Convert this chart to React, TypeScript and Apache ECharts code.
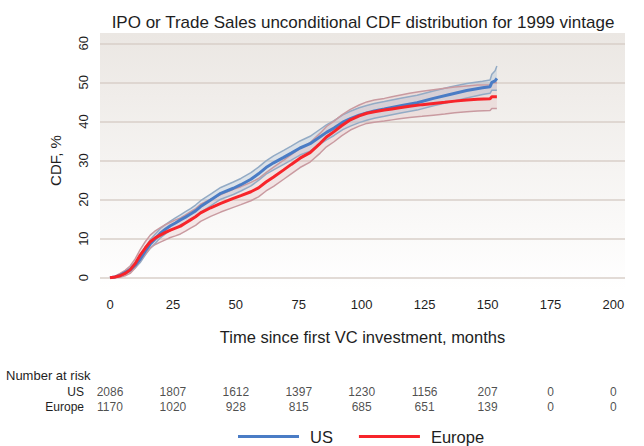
import React, { useEffect, useRef } from 'react';
import * as echarts from 'echarts';

// ---- data ----
const usMonths = [0, 2, 4, 6, 8, 10, 12, 14, 16, 18, 20, 22, 24, 26, 28, 30, 32, 34, 36, 40, 44, 49, 52, 56, 59, 62, 65, 69, 72, 75.5, 79.5, 83.5, 86, 89, 92.5, 95.5, 99, 102, 105, 109, 112, 116, 122, 128.5, 135, 141.7, 148, 151, 151.7, 153, 153.7];
const usCdf = [0, 0.2, 0.6, 1.3, 2.0, 3.2, 4.8, 6.8, 8.6, 10.0, 11.4, 12.4, 13.3, 14.0, 14.8, 15.5, 16.3, 17.1, 18.2, 19.9, 21.6, 22.9, 23.8, 25.2, 26.6, 28.2, 29.4, 30.8, 31.9, 33.2, 34.3, 36.1, 37.2, 38.3, 39.8, 40.7, 41.6, 42.2, 42.7, 43.2, 43.6, 44.1, 44.8, 45.9, 46.9, 47.9, 48.6, 48.9, 50.0, 50.4, 51.0];
const usUpper = [0, 0.3, 0.9, 1.7, 2.6, 3.9, 5.7, 7.8, 9.7, 11.2, 12.6, 13.6, 14.5, 15.3, 16.1, 16.9, 17.7, 18.6, 19.7, 21.4, 23.1, 24.5, 25.4, 26.9, 28.3, 29.9, 31.2, 32.6, 33.7, 35.0, 36.2, 38.0, 39.1, 40.2, 41.7, 42.6, 43.5, 44.1, 44.6, 45.1, 45.5, 46.0, 46.7, 47.8, 48.8, 49.7, 50.3, 50.6, 52.1, 53.0, 54.2];
const usLower = [0, 0.1, 0.4, 0.9, 1.5, 2.5, 3.9, 5.8, 7.5, 8.8, 10.2, 11.2, 12.1, 12.7, 13.5, 14.1, 14.9, 15.6, 16.7, 18.4, 20.1, 21.3, 22.2, 23.5, 24.9, 26.5, 27.6, 29.0, 30.1, 31.4, 32.4, 34.2, 35.3, 36.4, 37.9, 38.8, 39.7, 40.3, 40.8, 41.3, 41.7, 42.2, 42.9, 44.0, 45.0, 46.0, 46.9, 47.2, 48.0, 48.0, 48.0];

const euMonths = [0, 2, 4, 6, 8, 10, 12, 14, 16, 18, 20, 22, 24, 26, 28, 30, 32, 34, 36, 40, 44, 49, 52, 56, 59, 62, 65, 69, 72, 75.5, 79.5, 83.5, 86, 89, 92, 95.5, 99, 102, 105, 109, 112, 115, 119, 124, 128.5, 133, 137, 141.7, 146, 151, 151.7, 153.7];
const euCdf = [0, 0.2, 0.5, 1.1, 2.0, 3.6, 5.8, 7.6, 9.2, 10.2, 10.9, 11.6, 12.2, 12.7, 13.2, 14.0, 14.8, 15.6, 16.6, 17.9, 19.0, 20.3, 21.0, 22.0, 23.0, 24.5, 25.8, 27.6, 29.0, 30.6, 32.0, 34.4, 36.0, 37.4, 38.9, 40.4, 41.4, 42.1, 42.5, 42.9, 43.2, 43.5, 43.9, 44.3, 44.6, 44.9, 45.2, 45.5, 45.7, 45.8, 46.3, 46.3];
const euUpper = [0, 0.4, 1.1, 1.9, 3.0, 4.8, 7.2, 9.2, 10.9, 12.0, 12.8, 13.6, 14.2, 14.8, 15.3, 16.1, 16.9, 17.7, 18.8, 20.1, 21.3, 22.6, 23.3, 24.4, 25.4, 26.9, 28.3, 30.1, 31.5, 33.1, 34.6, 37.0, 38.7, 40.1, 41.6, 43.1, 44.2, 45.0, 45.5, 45.9, 46.3, 46.7, 47.2, 47.7, 48.1, 48.5, 48.8, 49.1, 49.3, 49.4, 49.9, 49.9];
const euLower = [0, 0.0, 0.1, 0.5, 1.1, 2.5, 4.4, 6.0, 7.6, 8.5, 9.1, 9.7, 10.3, 10.7, 11.2, 11.9, 12.7, 13.4, 14.4, 15.7, 16.8, 18.0, 18.7, 19.7, 20.7, 22.2, 23.4, 25.2, 26.6, 28.2, 29.6, 31.9, 33.5, 34.8, 36.3, 37.8, 38.8, 39.5, 39.8, 40.1, 40.4, 40.7, 41.0, 41.3, 41.6, 41.9, 42.2, 42.5, 42.7, 42.8, 43.3, 43.3];

const xTicks = [0, 25, 50, 75, 100, 125, 150, 175, 200];
const riskRows = ['US', 'Europe'];
const usAtRisk = [2086, 1807, 1612, 1397, 1230, 1156, 207, 0, 0];
const euAtRisk = [1170, 1020, 928, 815, 685, 651, 139, 0, 0];

const BLUE = '#4a7cc5';
const RED = '#f7242a';
const FONT = '"Liberation Sans", Arial, Helvetica, sans-serif';
const TXT = '#1e1e1e';

const pairs = (xs: number[], ys: number[]) => xs.map((x, i) => [x, ys[i]]);

const band = (name: string, xs: number[], up: number[], lo: number[], fill: string, z: number) => ({
  type: 'custom',
  name,
  xAxisIndex: 0,
  yAxisIndex: 0,
  silent: true,
  z,
  data: [[0, 0]],
  renderItem: (_p: any, api: any) => {
    const pts: number[][] = [];
    xs.forEach((x, i) => pts.push(api.coord([x, up[i]])));
    for (let i = xs.length - 1; i >= 0; i--) pts.push(api.coord([xs[i], lo[i]]));
    return { type: 'polygon', shape: { points: pts }, style: { fill } };
  },
});

const ciLine = (name: string, xs: number[], ys: number[], color: string, z: number) => ({
  type: 'line',
  name,
  data: pairs(xs, ys),
  symbol: 'none',
  silent: true,
  z,
  lineStyle: { color, width: 1.5 },
  itemStyle: { color },
});

const riskSeries = (name: string, row: string, counts: number[]) => ({
  type: 'scatter',
  name,
  xAxisIndex: 1,
  yAxisIndex: 1,
  symbolSize: 1,
  silent: true,
  itemStyle: { color: 'rgba(0,0,0,0)' },
  data: xTicks.map((t, i) => [t, row, counts[i]]),
  label: {
    show: true,
    position: 'inside',
    formatter: (p: any) => String(p.value[2]),
    fontSize: 12,
    color: TXT,
    fontFamily: FONT,
  },
});

export default function App() {
  const ref = useRef<HTMLDivElement>(null);
  useEffect(() => {
    if (!ref.current) return;
    const chart = echarts.init(ref.current, undefined, { renderer: 'svg' });
    const xMin = -3.97;
    const xMax = 204.6;
    chart.setOption({
      animation: false,
      textStyle: { fontFamily: FONT, color: TXT },
      title: [
        {
          text: 'IPO or Trade Sales unconditional CDF distribution for 1999 vintage',
          left: 358,
          top: 9,
          textAlign: 'center',
          textStyle: { fontSize: 17, fontWeight: 'normal', color: TXT, fontFamily: FONT },
        },
        {
          text: 'Number at risk',
          left: 1,
          top: 364,
          textStyle: { fontSize: 13, fontWeight: 'normal', color: TXT, fontFamily: FONT },
        },
      ],
      graphic: [
        {
          type: 'rect',
          z: -10,
          silent: true,
          shape: { x: 100, y: 33, width: 525, height: 257 },
          style: {
            fill: new echarts.graphic.LinearGradient(0, 0, 0, 1, [
              { offset: 0, color: '#ebe7e3' },
              { offset: 1, color: '#ffffff' },
            ]),
          },
        },
      ],
      legend: {
        data: ['US', 'Europe'],
        left: 233,
        top: 423,
        padding: 5,
        icon: 'rect',
        itemWidth: 61,
        itemHeight: 3,
        itemGap: 26,
        textStyle: { fontSize: 16.5, color: TXT, fontFamily: FONT, padding: [0, 0, 0, 6] },
      },
      grid: [
        { left: 100, top: 43.3, width: 525, height: 234.4 },
        { left: 100, top: 384.5, width: 525, height: 30 },
      ],
      xAxis: [
        {
          type: 'value',
          gridIndex: 0,
          min: xMin,
          max: xMax,
          name: 'Time since first VC investment, months',
          nameLocation: 'middle',
          nameGap: 51,
          nameTextStyle: { fontSize: 16.5, color: TXT, fontFamily: FONT },
          axisLine: { show: false },
          axisTick: { show: false },
          splitLine: { show: false },
          axisLabel: { customValues: xTicks, fontSize: 13, color: TXT, margin: 20, fontFamily: FONT },
        },
        {
          type: 'value',
          gridIndex: 1,
          min: xMin,
          max: xMax,
          show: false,
        },
      ],
      yAxis: [
        {
          type: 'value',
          gridIndex: 0,
          min: 0,
          max: 60,
          interval: 10,
          name: 'CDF, %',
          nameLocation: 'middle',
          nameGap: 37,
          nameRotate: 90,
          nameTextStyle: { fontSize: 15, color: TXT, fontFamily: FONT },
          axisLine: { show: false },
          axisTick: { show: false },
          splitLine: { show: true, lineStyle: { color: '#d8cfc9', width: 1.5 } },
          axisLabel: { rotate: 90, fontSize: 13, color: TXT, margin: 10, fontFamily: FONT },
        },
        {
          type: 'category',
          gridIndex: 1,
          data: riskRows,
          inverse: true,
          axisLine: { show: false },
          axisTick: { show: false },
          splitLine: { show: false },
          axisLabel: { interval: 0, hideOverlap: false, fontSize: 12, color: TXT, margin: 16, fontFamily: FONT },
        },
      ],
      series: [
        band('US band', usMonths, usUpper, usLower, 'rgba(150,178,210,0.28)', 1),
        band('Europe band', euMonths, euUpper, euLower, 'rgba(215,150,155,0.18)', 1),
        ciLine('US upper', usMonths, usUpper, '#93abc5', 2),
        ciLine('US lower', usMonths, usLower, '#93abc5', 2),
        ciLine('Europe upper', euMonths, euUpper, '#c99aa0', 3),
        ciLine('Europe lower', euMonths, euLower, '#c99aa0', 3),
        {
          type: 'line',
          name: 'US',
          data: pairs(usMonths, usCdf),
          symbol: 'none',
          z: 5,
          lineStyle: { color: BLUE, width: 3 },
          itemStyle: { color: BLUE },
        },
        {
          type: 'line',
          name: 'Europe',
          data: pairs(euMonths, euCdf),
          symbol: 'none',
          z: 6,
          lineStyle: { color: RED, width: 3 },
          itemStyle: { color: RED },
        },
        riskSeries('US at risk', 'US', usAtRisk),
        riskSeries('Europe at risk', 'Europe', euAtRisk),
      ],
    });
    return () => chart.dispose();
  }, []);
  return <div ref={ref} style={{ position: 'absolute', left: 0, top: 0, width: 644, height: 446 }} />;
}
